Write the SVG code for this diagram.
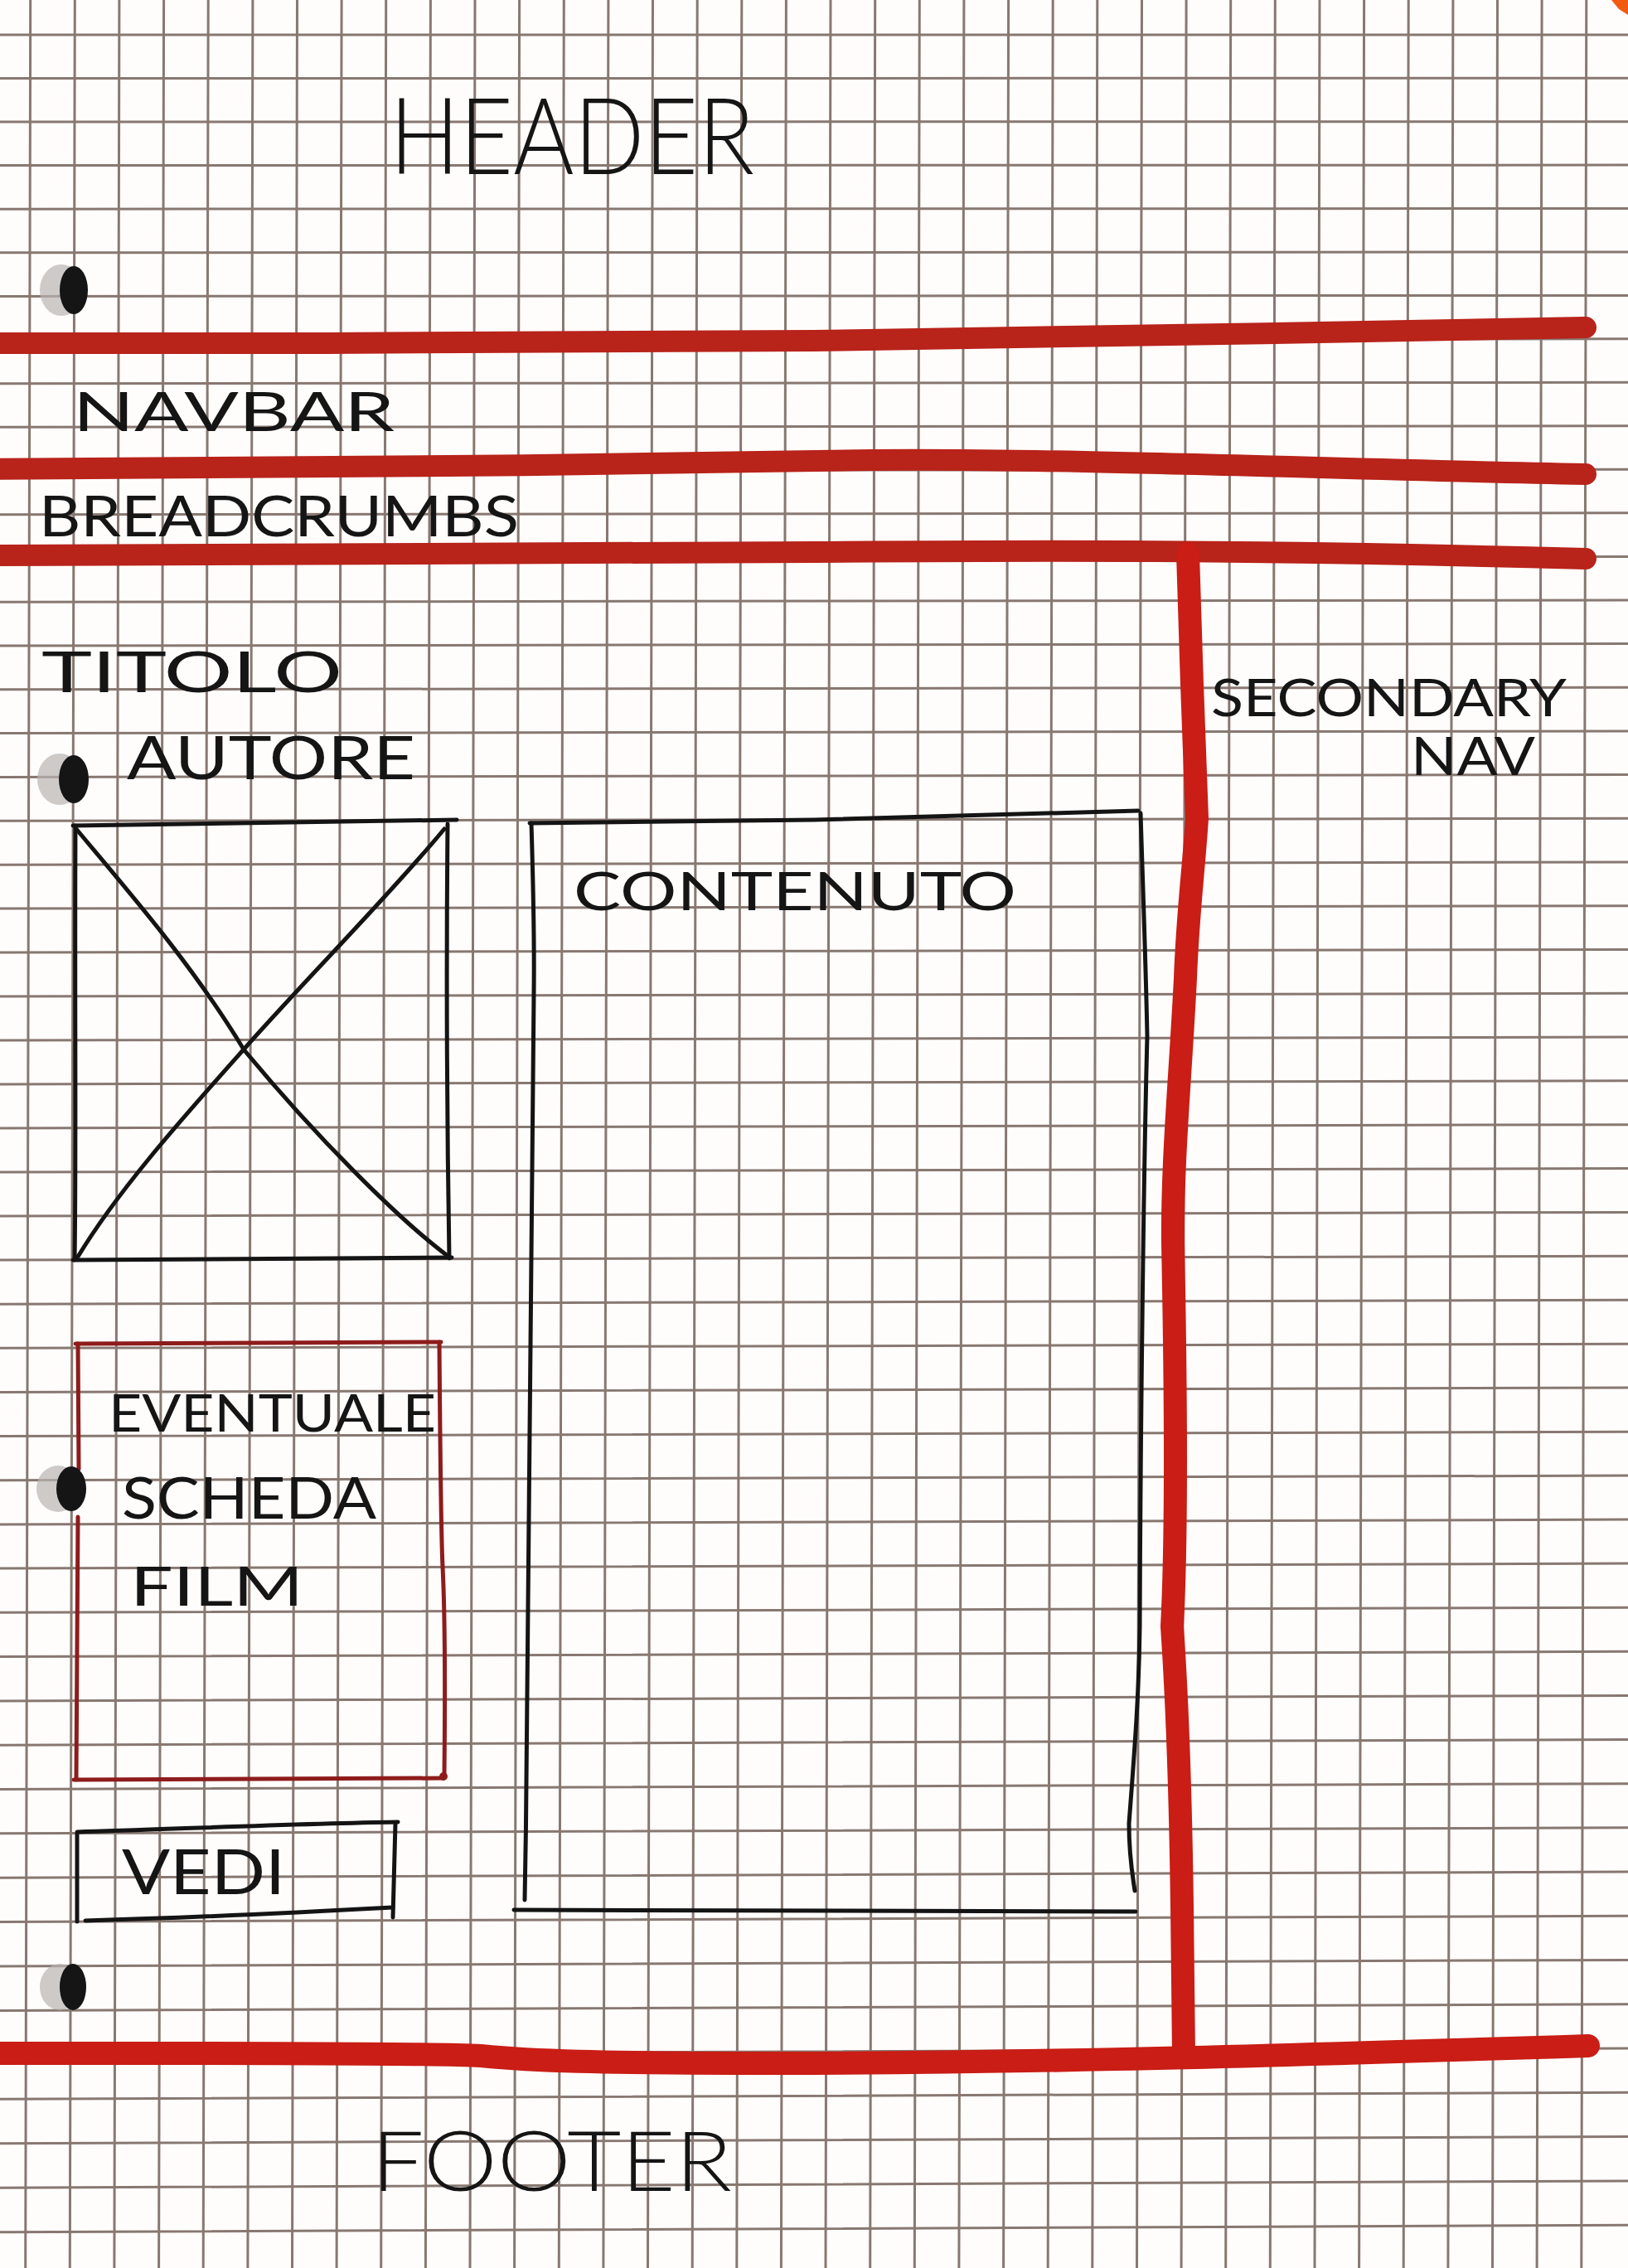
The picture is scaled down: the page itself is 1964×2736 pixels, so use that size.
<svg xmlns="http://www.w3.org/2000/svg" width="1964" height="2736" viewBox="0 0 1964 2736">
<style>
  .grid { stroke: #5e4a42; stroke-width: 3; opacity: 0.74; fill: none; }
  .red-top { stroke: #b8231a; stroke-width: 26; fill: none; stroke-linecap: round; stroke-linejoin: round; }
  .red { stroke: #c91d15; stroke-width: 28; fill: none; stroke-linecap: round; stroke-linejoin: round; }
  .ink { stroke: #141414; stroke-width: 5; fill: none; stroke-linecap: round; stroke-linejoin: round; }
  .ink-red { stroke: #8e1c1c; stroke-width: 5; fill: none; stroke-linecap: round; stroke-linejoin: round; }
  .lbl { font-family: Lato, "Open Sans", "Liberation Sans", sans-serif; font-weight: 400; fill: #151515; }
  .big { font-weight: 300; }
</style>
<rect x="0" y="0" width="1964" height="2736" fill="#fffdfc"/>

<g id="grid" class="grid">
  <path d="M36.7,0 L30.7,2736 M90.3,0 L84.3,2736 M143.9,0 L137.9,2736 M197.6,0 L191.6,2736 M251.2,0 L245.2,2736 M304.9,0 L298.9,2736 M358.5,0 L352.5,2736 M412.1,0 L406.1,2736 M465.7,0 L459.7,2736 M519.4,0 L513.4,2736 M573,0 L567,2736 M626.6,0 L620.6,2736 M680.3,0 L674.3,2736 M733.9,0 L727.9,2736 M787.5,0 L781.5,2736 M841.2,0 L835.2,2736 M894.8,0 L888.8,2736 M948.4,0 L942.4,2736 M1002,0 L996,2736 M1055.7,0 L1049.7,2736 M1109.3,0 L1103.3,2736 M1162.9,0 L1156.9,2736 M1216.6,0 L1210.6,2736 M1270.2,0 L1264.2,2736 M1323.8,0 L1317.8,2736 M1377.5,0 L1371.5,2736 M1431.1,0 L1425.1,2736 M1484.7,0 L1478.7,2736 M1538.3,0 L1532.3,2736 M1592,0 L1586,2736 M1645.6,0 L1639.6,2736 M1699.2,0 L1693.2,2736 M1752.9,0 L1746.9,2736 M1806.5,0 L1800.5,2736 M1860.1,0 L1854.1,2736 M1913.8,0 L1907.8,2736"/>
  <path d="M0,42 L1964,42 M0,94.5 L1964,94.3 M0,147 L1964,146.7 M0,199.6 L1964,199.1 M0,252.2 L1964,251.5 M0,304.8 L1964,304 M0,357.4 L1964,356.4 M0,410 L1964,408.8 M0,462.7 L1964,461.3 M0,515.3 L1964,513.8 M0,568 L1964,566.3 M0,620.7 L1964,618.8 M0,673.5 L1964,671.5 M0,726.2 L1964,724 M0,779 L1964,776.6 M0,831.8 L1964,829.2 M0,884.6 L1964,881.9 M0,937.5 L1964,934.6 M0,990.3 L1964,987.2 M0,1043.2 L1964,1040 M0,1096.1 L1964,1092.7 M0,1149 L1964,1145.4 M0,1202 L1964,1198.3 M0,1255 L1964,1251.1 M0,1307.9 L1964,1303.8 M0,1360.9 L1964,1356.7 M0,1414 L1964,1409.6 M0,1467 L1964,1462.4 M0,1520.1 L1964,1515.3 M0,1573.2 L1964,1568.3 M0,1626.3 L1964,1621.2 M0,1679.4 L1964,1674.1 M0,1732.6 L1964,1727.2 M0,1785.7 L1964,1780.1 M0,1838.9 L1964,1833.1 M0,1892.1 L1964,1886.1 M0,1945.3 L1964,1939.2 M0,1998.6 L1964,1992.3 M0,2051.9 L1964,2045.4 M0,2105.2 L1964,2098.6 M0,2158.5 L1964,2151.7 M0,2211.8 L1964,2204.8 M0,2265.2 L1964,2258 M0,2318.5 L1964,2311.2 M0,2371.9 L1964,2364.4 M0,2425.4 L1964,2417.7 M0,2478.8 L1964,2471 M0,2532.3 L1964,2524.3 M0,2585.7 L1964,2577.5 M0,2639.2 L1964,2630.9 M0,2692.8 L1964,2684.3"/>
</g>

<g id="corner-mark">
  <polygon points="1944,0 1964,0 1964,18 1953,11" fill="#f25a12"/>
</g>

<g id="dividers">
  <path class="red-top" d="M-20,414 C300,415 700,413 982,411 C1300,408 1600,400 1913,395"/>
  <path class="red-top" d="M-20,566 C300,566 700,561 1050,555 C1300,553 1600,566 1913,572"/>
  <path class="red-top" d="M-20,670 C400,669 800,667 982,666 C1250,664 1500,663 1913,674"/>
  <path class="red" d="M1433,668 C1436,760 1440,900 1444,987 C1440,1050 1433,1100 1430,1180 C1424,1300 1414,1400 1415,1500 C1418,1650 1420,1850 1414,1962 C1420,2050 1424,2150 1426,2300 L1428,2480"/>
  <path class="red" d="M-20,2477 C200,2477 500,2476 580,2480 C640,2486 700,2489 982,2489 C1200,2488 1420,2484 1916,2468"/>
</g>

<g id="connectors"></g>

<g id="header">
  <text class="lbl big" x="470" y="210" font-size="128" textLength="440" lengthAdjust="spacingAndGlyphs">HEADER</text>
</g>

<g id="navbar">
  <text class="lbl" x="88" y="520" font-size="66" textLength="388" lengthAdjust="spacingAndGlyphs">NAVBAR</text>
</g>

<g id="breadcrumbs">
  <text class="lbl" x="47" y="647" font-size="68" textLength="579" lengthAdjust="spacingAndGlyphs">BREADCRUMBS</text>
</g>

<g id="titolo">
  <text class="lbl" x="50" y="835" font-size="68" textLength="363" lengthAdjust="spacingAndGlyphs">TITOLO</text>
</g>

<g id="autore">
  <text class="lbl" x="153" y="940" font-size="72" textLength="348" lengthAdjust="spacingAndGlyphs">AUTORE</text>
</g>

<g id="image-placeholder" class="ink">
  <path d="M88,996 L551,989"/>
  <path d="M91,996 C90,1200 92,1400 90,1520"/>
  <path d="M540,994 C538,1200 540,1400 542,1518"/>
  <path d="M88,1520 L545,1517"/>
  <path d="M92,1000 C150,1070 230,1160 294,1266 C380,1370 480,1470 540,1515"/>
  <path d="M536,1000 C470,1080 370,1180 294,1266 C210,1360 140,1440 94,1516"/>
</g>

<g id="contenuto">
  <g class="ink">
    <path d="M639,993 C800,992 900,990 982,989 C1150,984 1280,980 1373,978"/>
    <path d="M641,993 C643,1060 645,1120 644,1200 C642,1500 640,1900 633,2292"/>
    <path d="M1376,981 C1378,1050 1382,1150 1384,1250 C1380,1400 1376,1700 1375,1962 C1374,2050 1368,2120 1362,2200 C1362,2240 1366,2260 1369,2281"/>
    <path d="M620,2304 C900,2306 1150,2307 1370,2306"/>
  </g>
  <text class="lbl" x="692" y="1098" font-size="64" textLength="534" lengthAdjust="spacingAndGlyphs">CONTENUTO</text>
</g>

<g id="secondary-nav">
  <text class="lbl" x="1461" y="864" font-size="62" textLength="429" lengthAdjust="spacingAndGlyphs">SECONDARY</text>
  <text class="lbl" x="1702" y="935" font-size="64" textLength="150" lengthAdjust="spacingAndGlyphs">NAV</text>
</g>

<g id="scheda-film">
  <g class="ink-red">
    <path d="M91,1621 L532,1619"/>
    <path d="M94,1621 L95,1772"/>
    <path d="M94,1830 L92,2147"/>
    <path d="M530,1619 C531,1750 532,1850 534,1890 C537,1950 537,2050 536,2142"/>
    <path d="M89,2147 L536,2145"/>
  </g>
  <circle cx="535" cy="2143" r="5" fill="#8e1c1c"/>
  <text class="lbl" x="131" y="1727" font-size="61" textLength="395" lengthAdjust="spacingAndGlyphs">EVENTUALE</text>
  <text class="lbl" x="147" y="1832" font-size="70" textLength="307" lengthAdjust="spacingAndGlyphs">SCHEDA</text>
  <text class="lbl" x="157" y="1937" font-size="65" textLength="209" lengthAdjust="spacingAndGlyphs">FILM</text>
</g>

<g id="vedi">
  <g class="ink">
    <path d="M93,2210 C200,2207 350,2200 480,2198"/>
    <path d="M93,2212 L93,2318"/>
    <path d="M103,2317 C250,2313 400,2305 474,2301"/>
    <path d="M477,2199 L474,2313"/>
  </g>
  <text class="lbl" x="147" y="2285" font-size="76" textLength="197" lengthAdjust="spacingAndGlyphs">VEDI</text>
</g>

<g id="footer">
  <text class="lbl big" x="448" y="2643" font-size="100" textLength="435" lengthAdjust="spacingAndGlyphs">FOOTER</text>
</g>

<g id="punch-holes">
  <ellipse cx="74" cy="350" rx="26" ry="31" fill="#b9b4b2" opacity="0.7"/>
  <ellipse cx="89" cy="350" rx="17" ry="29" fill="#151515"/>
  <ellipse cx="72" cy="940" rx="27" ry="31" fill="#b9b4b2" opacity="0.7"/>
  <ellipse cx="89" cy="940" rx="18" ry="29" fill="#151515"/>
  <ellipse cx="70" cy="1796" rx="26" ry="28" fill="#b9b4b2" opacity="0.7"/>
  <ellipse cx="86" cy="1796" rx="18" ry="27" fill="#151515"/>
  <ellipse cx="72" cy="2397" rx="24" ry="28" fill="#b9b4b2" opacity="0.7"/>
  <ellipse cx="88" cy="2397" rx="16" ry="28" fill="#151515"/>
</g>
</svg>
